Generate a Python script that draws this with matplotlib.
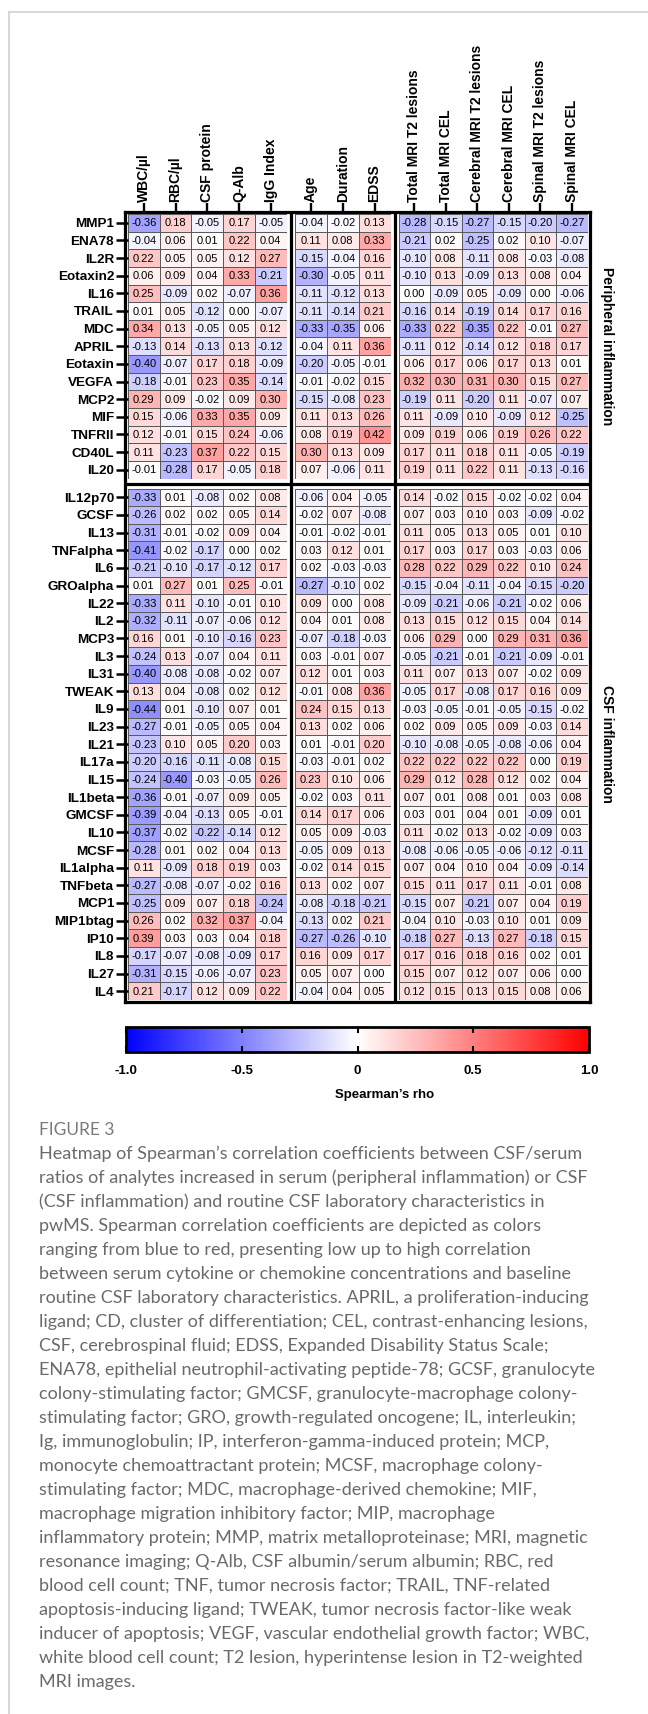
import numpy as np
import matplotlib
matplotlib.use('Agg')
import matplotlib.pyplot as plt
from matplotlib.colors import LinearSegmentedColormap, Normalize
from matplotlib.cm import ScalarMappable
from matplotlib.lines import Line2D

plt.rcParams['font.family'] = ['Liberation Sans', 'DejaVu Sans']

# column groups
lab_cols = ['WBC/µl', 'RBC/µl', 'CSF protein', 'Q-Alb', 'IgG Index']
clin_cols = ['Age', 'Duration', 'EDSS']
mri_cols = ['Total MRI T2 lesions', 'Total MRI CEL', 'Cerebral MRI T2 lesions',
            'Cerebral MRI CEL', 'Spinal MRI T2 lesions', 'Spinal MRI CEL']

# row groups
periph_rows = ['MMP1', 'ENA78', 'IL2R', 'Eotaxin2', 'IL16', 'TRAIL', 'MDC', 'APRIL',
               'Eotaxin', 'VEGFA', 'MCP2', 'MIF', 'TNFRII', 'CD40L', 'IL20']
csf_rows = ['IL12p70', 'GCSF', 'IL13', 'TNFalpha', 'IL6', 'GROalpha', 'IL22', 'IL2',
            'MCP3', 'IL3', 'IL31', 'TWEAK', 'IL9', 'IL23', 'IL21', 'IL17a', 'IL15',
            'IL1beta', 'GMCSF', 'IL10', 'MCSF', 'IL1alpha', 'TNFbeta', 'MCP1',
            'MIP1btag', 'IP10', 'IL8', 'IL27', 'IL4']

# Spearman's rho, peripheral inflammation
periph_lab = [
    [-0.36, 0.18, -0.05, 0.17, -0.05],
    [-0.04, 0.06, 0.01, 0.22, 0.04],
    [0.22, 0.05, 0.05, 0.12, 0.27],
    [0.06, 0.09, 0.04, 0.33, -0.21],
    [0.25, -0.09, 0.02, -0.07, 0.36],
    [0.01, 0.05, -0.12, 0.00, -0.07],
    [0.34, 0.13, -0.05, 0.05, 0.12],
    [-0.13, 0.14, -0.13, 0.13, -0.12],
    [-0.40, -0.07, 0.17, 0.18, -0.09],
    [-0.18, -0.01, 0.23, 0.35, -0.14],
    [0.29, 0.09, -0.02, 0.09, 0.30],
    [0.15, -0.06, 0.33, 0.35, 0.09],
    [0.12, -0.01, 0.15, 0.24, -0.06],
    [0.11, -0.23, 0.37, 0.22, 0.15],
    [-0.01, -0.28, 0.17, -0.05, 0.18],
]
periph_clin = [
    [-0.04, -0.02, 0.13],
    [0.11, 0.08, 0.33],
    [-0.15, -0.04, 0.16],
    [-0.30, -0.05, 0.11],
    [-0.11, -0.12, 0.13],
    [-0.11, -0.14, 0.21],
    [-0.33, -0.35, 0.06],
    [-0.04, 0.11, 0.36],
    [-0.20, -0.05, -0.01],
    [-0.01, -0.02, 0.15],
    [-0.15, -0.08, 0.23],
    [0.11, 0.13, 0.26],
    [0.08, 0.19, 0.42],
    [0.30, 0.13, 0.09],
    [0.07, -0.06, 0.11],
]
periph_mri = [
    [-0.28, -0.15, -0.27, -0.15, -0.20, -0.27],
    [-0.21, 0.02, -0.25, 0.02, 0.10, -0.07],
    [-0.10, 0.08, -0.11, 0.08, -0.03, -0.08],
    [-0.10, 0.13, -0.09, 0.13, 0.08, 0.04],
    [0.00, -0.09, 0.05, -0.09, 0.00, -0.06],
    [-0.16, 0.14, -0.19, 0.14, 0.17, 0.16],
    [-0.33, 0.22, -0.35, 0.22, -0.01, 0.27],
    [-0.11, 0.12, -0.14, 0.12, 0.18, 0.17],
    [0.06, 0.17, 0.06, 0.17, 0.13, 0.01],
    [0.32, 0.30, 0.31, 0.30, 0.15, 0.27],
    [-0.19, 0.11, -0.20, 0.11, -0.07, 0.07],
    [0.11, -0.09, 0.10, -0.09, 0.12, -0.25],
    [0.09, 0.19, 0.06, 0.19, 0.26, 0.22],
    [0.17, 0.11, 0.18, 0.11, -0.05, -0.19],
    [0.19, 0.11, 0.22, 0.11, -0.13, -0.16],
]

# Spearman's rho, CSF inflammation
csf_lab = [
    [-0.33, 0.01, -0.08, 0.02, 0.08],
    [-0.26, 0.02, 0.02, 0.05, 0.14],
    [-0.31, -0.01, -0.02, 0.09, 0.04],
    [-0.41, -0.02, -0.17, 0.00, 0.02],
    [-0.21, -0.10, -0.17, -0.12, 0.17],
    [0.01, 0.27, 0.01, 0.25, -0.01],
    [-0.33, 0.11, -0.10, -0.01, 0.10],
    [-0.32, -0.11, -0.07, -0.06, 0.12],
    [0.16, 0.01, -0.10, -0.16, 0.23],
    [-0.24, 0.13, -0.07, 0.04, 0.11],
    [-0.40, -0.08, -0.08, -0.02, 0.07],
    [0.13, 0.04, -0.08, 0.02, 0.12],
    [-0.44, 0.01, -0.10, 0.07, 0.01],
    [-0.27, -0.01, -0.05, 0.05, 0.04],
    [-0.23, 0.10, 0.05, 0.20, 0.03],
    [-0.20, -0.16, -0.11, -0.08, 0.15],
    [-0.24, -0.40, -0.03, -0.05, 0.26],
    [-0.36, -0.01, -0.07, 0.09, 0.05],
    [-0.39, -0.04, -0.13, 0.05, -0.01],
    [-0.37, -0.02, -0.22, -0.14, 0.12],
    [-0.28, 0.01, 0.02, 0.04, 0.13],
    [0.11, -0.09, 0.18, 0.19, 0.03],
    [-0.27, -0.08, -0.07, -0.02, 0.16],
    [-0.25, 0.09, 0.07, 0.18, -0.24],
    [0.26, 0.02, 0.32, 0.37, -0.04],
    [0.39, 0.03, 0.03, 0.04, 0.18],
    [-0.17, -0.07, -0.08, -0.09, 0.17],
    [-0.31, -0.15, -0.06, -0.07, 0.23],
    [0.21, -0.17, 0.12, 0.09, 0.22],
]
csf_clin = [
    [-0.06, 0.04, -0.05],
    [-0.02, 0.07, -0.08],
    [-0.01, -0.02, -0.01],
    [0.03, 0.12, 0.01],
    [0.02, -0.03, -0.03],
    [-0.27, -0.10, 0.02],
    [0.09, 0.00, 0.08],
    [0.04, 0.01, 0.08],
    [-0.07, -0.18, -0.03],
    [0.03, -0.01, 0.07],
    [0.12, 0.01, 0.03],
    [-0.01, 0.08, 0.36],
    [0.24, 0.15, 0.13],
    [0.13, 0.02, 0.06],
    [0.01, -0.01, 0.20],
    [-0.03, -0.01, 0.02],
    [0.23, 0.10, 0.06],
    [-0.02, 0.03, 0.11],
    [0.14, 0.17, 0.06],
    [0.05, 0.09, -0.03],
    [-0.05, 0.09, 0.13],
    [-0.02, 0.14, 0.15],
    [0.13, 0.02, 0.07],
    [-0.08, -0.18, -0.21],
    [-0.13, 0.02, 0.21],
    [-0.27, -0.26, -0.10],
    [0.16, 0.09, 0.17],
    [0.05, 0.07, 0.00],
    [-0.04, 0.04, 0.05],
]
csf_mri = [
    [0.14, -0.02, 0.15, -0.02, -0.02, 0.04],
    [0.07, 0.03, 0.10, 0.03, -0.09, -0.02],
    [0.11, 0.05, 0.13, 0.05, 0.01, 0.10],
    [0.17, 0.03, 0.17, 0.03, -0.03, 0.06],
    [0.28, 0.22, 0.29, 0.22, 0.10, 0.24],
    [-0.15, -0.04, -0.11, -0.04, -0.15, -0.20],
    [-0.09, -0.21, -0.06, -0.21, -0.02, 0.06],
    [0.13, 0.15, 0.12, 0.15, 0.04, 0.14],
    [0.06, 0.29, 0.00, 0.29, 0.31, 0.36],
    [-0.05, -0.21, -0.01, -0.21, -0.09, -0.01],
    [0.11, 0.07, 0.13, 0.07, -0.02, 0.09],
    [-0.05, 0.17, -0.08, 0.17, 0.16, 0.09],
    [-0.03, -0.05, -0.01, -0.05, -0.15, -0.02],
    [0.02, 0.09, 0.05, 0.09, -0.03, 0.14],
    [-0.10, -0.08, -0.05, -0.08, -0.06, 0.04],
    [0.22, 0.22, 0.22, 0.22, 0.00, 0.19],
    [0.29, 0.12, 0.28, 0.12, 0.02, 0.04],
    [0.07, 0.01, 0.08, 0.01, 0.03, 0.08],
    [0.03, 0.01, 0.04, 0.01, -0.09, 0.01],
    [0.11, -0.02, 0.13, -0.02, -0.09, 0.03],
    [-0.08, -0.06, -0.05, -0.06, -0.12, -0.11],
    [0.07, 0.04, 0.10, 0.04, -0.09, -0.14],
    [0.15, 0.11, 0.17, 0.11, -0.01, 0.08],
    [-0.15, 0.07, -0.21, 0.07, 0.04, 0.19],
    [-0.04, 0.10, -0.03, 0.10, 0.01, 0.09],
    [-0.18, 0.27, -0.13, 0.27, -0.18, 0.15],
    [0.17, 0.16, 0.18, 0.16, 0.02, 0.01],
    [0.15, 0.07, 0.12, 0.07, 0.06, 0.00],
    [0.12, 0.15, 0.13, 0.15, 0.08, 0.06],
]

cbar_ticks = [-1.0, -0.5, 0, 0.5, 1.0]
cbar_ticklabels = ['-1.0', '-0.5', '0', '0.5', '1.0']

caption_title = 'FIGURE 3'
caption_lines = [
    'Heatmap of Spearman’s correlation coefficients between CSF/serum',
    'ratios of analytes increased in serum (peripheral inflammation) or CSF',
    '(CSF inflammation) and routine CSF laboratory characteristics in',
    'pwMS. Spearman correlation coefficients are depicted as colors',
    'ranging from blue to red, presenting low up to high correlation',
    'between serum cytokine or chemokine concentrations and baseline',
    'routine CSF laboratory characteristics. APRIL, a proliferation-inducing',
    'ligand; CD, cluster of differentiation; CEL, contrast-enhancing lesions,',
    'CSF, cerebrospinal fluid; EDSS, Expanded Disability Status Scale;',
    'ENA78, epithelial neutrophil-activating peptide-78; GCSF, granulocyte',
    'colony-stimulating factor; GMCSF, granulocyte-macrophage colony-',
    'stimulating factor; GRO, growth-regulated oncogene; IL, interleukin;',
    'Ig, immunoglobulin; IP, interferon-gamma-induced protein; MCP,',
    'monocyte chemoattractant protein; MCSF, macrophage colony-',
    'stimulating factor; MDC, macrophage-derived chemokine; MIF,',
    'macrophage migration inhibitory factor; MIP, macrophage',
    'inflammatory protein; MMP, matrix metalloproteinase; MRI, magnetic',
    'resonance imaging; Q-Alb, CSF albumin/serum albumin; RBC, red',
    'blood cell count; TNF, tumor necrosis factor; TRAIL, TNF-related',
    'apoptosis-inducing ligand; TWEAK, tumor necrosis factor-like weak',
    'inducer of apoptosis; VEGF, vascular endothelial growth factor; WBC,',
    'white blood cell count; T2 lesion, hyperintense lesion in T2-weighted',
    'MRI images.',
]

# ---------------------
# figure in pixel units
W, H = 648, 1714
fig = plt.figure(figsize=(W / 100, H / 100), dpi=100)


def ax_px(x0, y0, x1, y1):
    return fig.add_axes([x0 / W, 1 - y1 / H, (x1 - x0) / W, (y1 - y0) / H])


cmap = LinearSegmentedColormap.from_list('bwr_prism', ['#0000ff', '#ffffff', '#ff0000'])
norm = Normalize(vmin=-1, vmax=1)

# page decoration
fig.add_artist(Line2D([9 / W, 9 / W], [0, 1 - 12 / H], color='#cfcfcf', lw=1.2))
fig.add_artist(Line2D([9 / W, 1], [1 - 12 / H, 1 - 12 / H], color='#cfcfcf', lw=1.2))

# outer frame + separators
frame_box = (125, 212, 590, 1002)
sep_x = [290.5, 394.5]
sep_y = [483.5]
fr = ax_px(*frame_box)
fr.set_xlim(frame_box[0], frame_box[2])
fr.set_ylim(frame_box[3], frame_box[1])
fr.set_xticks([])
fr.set_yticks([])
for s in fr.spines.values():
    s.set_linewidth(2.3)
for sx in sep_x:
    fr.axvline(sx, color='black', lw=2.3)
for sy in sep_y:
    fr.axhline(sy, color='black', lw=2.3)

col_spans = [(128, 286.5), (295, 390.5), (398.5, 587.5)]
row_spans = [(214, 478.5), (488.5, 1000)]
col_groups = [lab_cols, clin_cols, mri_cols]
row_groups = [periph_rows, csf_rows]
blocks = [[periph_lab, periph_clin, periph_mri],
          [csf_lab, csf_clin, csf_mri]]

for bi, (ry0, ry1) in enumerate(row_spans):
    for gi, (cx0, cx1) in enumerate(col_spans):
        vals = np.array(blocks[bi][gi])
        nr, nc = vals.shape
        ax = ax_px(cx0, ry0, cx1, ry1)
        ax.pcolormesh(vals, cmap=cmap, norm=norm, edgecolors='#5a5a5a', linewidth=0.6)
        ax.set_xlim(0, nc)
        ax.set_ylim(nr, 0)
        for s in ax.spines.values():
            s.set_visible(False)
        for i in range(nr):
            for j in range(nc):
                ax.text(j + 0.5, i + 0.53, '%.2f' % vals[i, j], ha='center', va='center',
                        fontsize=8, color='black')
        ax.tick_params(left=False, bottom=False, top=False, right=False,
                       labelleft=False, labelbottom=False, labeltop=False, labelright=False)
        if bi == 0:
            ax.set_xticks(np.arange(nc) + 0.5)
            ax.set_xticklabels(col_groups[gi], rotation=90, fontsize=10, fontweight='bold')
            ax.tick_params(axis='x', top=True, labeltop=True, length=8, width=1.7, pad=1)
        else:
            ax.set_xticks([])
        if gi == 0:
            ax.set_yticks(np.arange(nr) + 0.5)
            ax.set_yticklabels(row_groups[bi], fontsize=9.7, fontweight='bold')
            ax.tick_params(axis='y', left=True, labelleft=True, length=9, width=1.8, pad=1)
        else:
            ax.set_yticks([])

fig.text(607 / W, 1 - (row_spans[0][0] + row_spans[0][1]) / 2 / H, 'Peripheral inflammation',
         rotation=270, ha='center', va='center', fontsize=10, fontweight='bold')
fig.text(607 / W, 1 - (row_spans[1][0] + row_spans[1][1]) / 2 / H, 'CSF inflammation',
         rotation=270, ha='center', va='center', fontsize=10, fontweight='bold')

# colour bar
cax = ax_px(126, 1027, 589, 1052)
cb = fig.colorbar(ScalarMappable(norm=norm, cmap=cmap), cax=cax, orientation='horizontal')
cb.outline.set_linewidth(2)
cb.set_ticks(cbar_ticks)
cb.set_ticklabels(cbar_ticklabels)
cax.tick_params(direction='in', top=True, bottom=True, length=4, width=1.5, pad=9,
                labelsize=9.5)
for t in cax.get_xticklabels():
    t.set_fontweight('bold')
fig.text(385 / W, 1 - 1095 / H, 'Spearman’s rho', ha='center', va='center',
         fontsize=9.5, fontweight='bold')

# caption
cap_font = ['Lato', 'DejaVu Sans']
fig.text(39 / W, 1 - 1130 / H, caption_title, ha='left', va='center', fontsize=12.5,
         color='#7a7a7a', family=cap_font)
for k, line in enumerate(caption_lines):
    fig.text(39 / W, 1 - (1154 + 24 * k) / H, line, ha='left', va='center', fontsize=13,
             color='#6a6a6a', family=cap_font)

fig.savefig('out.png', dpi=100)
